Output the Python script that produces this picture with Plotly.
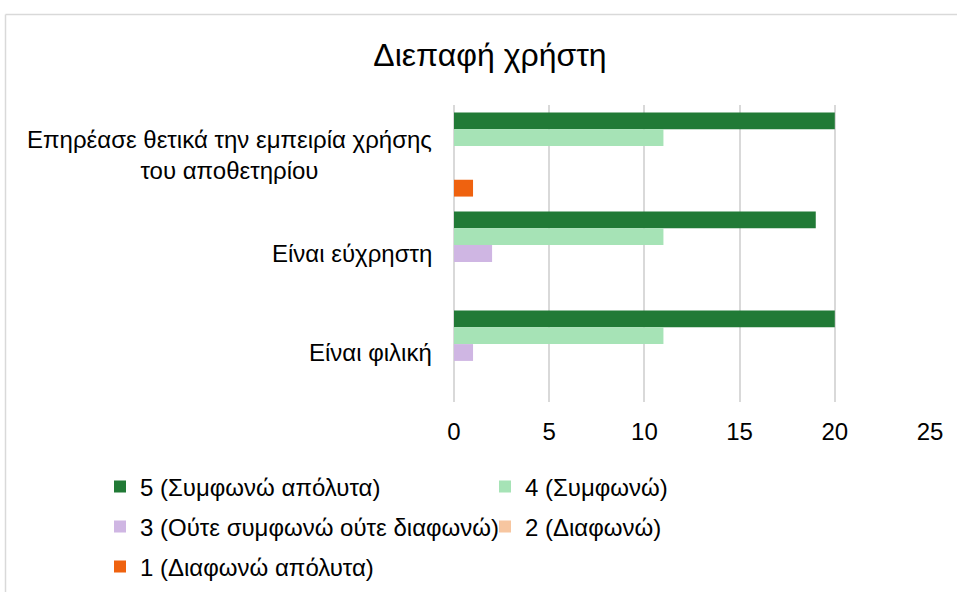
import plotly.graph_objects as go

categories = ["Επηρέασε θετικά την εμπειρία χρήσης<br>του αποθετηρίου",
              "Είναι εύχρηστη",
              "Είναι φιλική"]
series_names = ["5 (Συμφωνώ απόλυτα)", "4 (Συμφωνώ)",
                "3 (Ούτε συμφωνώ ούτε διαφωνώ)", "2 (Διαφωνώ)",
                "1 (Διαφωνώ απόλυτα)"]
values_5 = [20, 19, 20]
values_4 = [11, 11, 11]
values_3 = [0, 2, 1]
values_2 = [0, 0, 0]
values_1 = [1, 0, 0]
x_ticks = [0, 5, 10, 15, 20, 25]

series_values = [values_5, values_4, values_3, values_2, values_1]
colors = ["#217a36", "#a6e3b6", "#cfb6e3", "#f7c6a0", "#ef620f"]
legend_ids = ["legend", "legend", "legend2", "legend2", "legend3"]

W, H = 957, 592
L, R, T, B = 454, 27, 105, 190
FONT = "Liberation Sans, Arial, sans-serif"

fig = go.Figure()
for name, vals, col, lg in zip(series_names, series_values, colors, legend_ids):
    fig.add_trace(go.Bar(y=categories, x=vals, name=name, orientation="h",
                         marker=dict(color=col, line=dict(width=0)),
                         legend=lg))

pw = W - L - R
ph = H - T - B

def px_x(px):
    return (px - L) / pw

def px_y(py):
    return (H - B - py) / ph

def leg(ycenter):
    return dict(orientation="h", entrywidth=340, entrywidthmode="pixels",
                x=px_x(100), xref="paper", xanchor="left",
                y=px_y(ycenter), yref="paper", yanchor="middle",
                font=dict(family=FONT, size=24, color="#000000"),
                bgcolor="rgba(0,0,0,0)", itemwidth=30, traceorder="normal")

annotations = []
for c in categories:
    annotations.append(dict(x=0, xref="paper", y=c, yref="y", text=c,
                            showarrow=False, xanchor="right", yanchor="middle",
                            xshift=-20, align="center",
                            font=dict(family=FONT, size=24, color="#000000")))

border = dict(color="#d9d9d9", width=1.5)
fig.update_layout(
    width=W, height=H,
    margin=dict(l=L, r=R, t=T, b=B, pad=0, autoexpand=False),
    paper_bgcolor="white", plot_bgcolor="white",
    barmode="group", bargap=0.15, bargroupgap=0,
    title=dict(text="Διεπαφή χρήστη", x=490 / W, xref="container", xanchor="center",
               y=1 - 55 / H, yref="container", yanchor="middle",
               font=dict(family=FONT, size=32, color="#000000")),
    xaxis=dict(range=[0, 25], tickvals=x_ticks, showgrid=True, gridcolor="#d9d9d9",
               gridwidth=1.5, zeroline=True, zerolinecolor="#d9d9d9", zerolinewidth=1.5,
               showline=False, ticks="", ticklabelstandoff=13,
               tickfont=dict(family=FONT, size=24, color="#000000")),
    yaxis=dict(autorange="reversed", showticklabels=False, showgrid=False,
               zeroline=False, showline=False, ticks=""),
    legend=leg(487), legend2=leg(527), legend3=leg(567),
    annotations=annotations,
    shapes=[
        dict(type="line", xref="paper", yref="paper",
             x0=px_x(5.5), x1=px_x(W + 20), y0=px_y(14.5), y1=px_y(14.5),
             line=border, layer="below"),
        dict(type="line", xref="paper", yref="paper",
             x0=px_x(5.5), x1=px_x(5.5), y0=px_y(14.5), y1=px_y(H + 20),
             line=border, layer="below"),
    ],
    showlegend=True,
)

fig.write_html("out.html")
